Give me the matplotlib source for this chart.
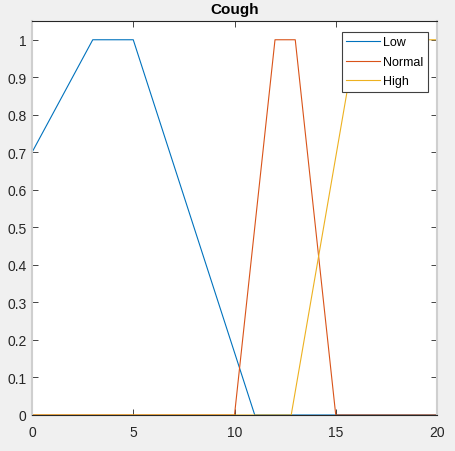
import numpy as np
import matplotlib
matplotlib.use("Agg")
import matplotlib.pyplot as plt

x_range = [0, 20]
mf_names = ["Low", "Normal", "High"]
mf_params = [[-7, 3, 5, 11], [10, 12, 13, 15], [12.8, 16, 20, 24]]
colors = ["#0072BD", "#D95319", "#EDB120"]
x_ticks = [0, 5, 10, 15, 20]
y_ticks = [0, 0.1, 0.2, 0.3, 0.4, 0.5, 0.6, 0.7, 0.8, 0.9, 1]
y_tick_labels = ["0", "0.1", "0.2", "0.3", "0.4", "0.5", "0.6", "0.7", "0.8", "0.9", "1"]


def trapmf(x, p):
    a, b, c, d = p
    up = (x - a) / (b - a)
    down = (d - x) / (d - c)
    return np.clip(np.minimum(np.minimum(up, 1.0), down), 0, 1)


plt.rcParams['font.family'] = ['Liberation Sans', 'DejaVu Sans']

fig = plt.figure(figsize=(4.56, 4.52), dpi=100, facecolor="#f0f0f0")
ax = fig.add_axes([32 / 456, 36 / 452, 405 / 456, 394 / 452])
ax.set_facecolor("white")

xs = np.linspace(x_range[0], x_range[1], 2001)
for name, p, c in zip(mf_names, mf_params, colors):
    ax.plot(xs, trapmf(xs, p), color=c, lw=0.8, label=name)

ax.set_xlim(x_range)
ax.set_ylim(0, 1.05)
ax.set_xticks(x_ticks)
ax.set_yticks(y_ticks)
ax.set_yticklabels(y_tick_labels)
ax.tick_params(direction="in", top=True, right=True, labelsize=10,
               colors="#262626", length=4, width=0.6)
ax.tick_params(axis="x", pad=7)
ax.tick_params(axis="y", pad=4)
for side, s in ax.spines.items():
    if side in ("left", "right"):
        s.set_color("#cfcfcf")
        s.set_linewidth(1.5)
    else:
        s.set_color("#262626")
        s.set_linewidth(0.8)
ax.set_title("Cough", fontsize=11, fontweight="bold", color="black", pad=6)

leg = ax.legend(loc="upper right", bbox_to_anchor=(0.978, 0.972), borderaxespad=0,
                fontsize=9, fancybox=False, framealpha=1,
                edgecolor="#404040", borderpad=0.35, labelspacing=0.6,
                handlelength=2.7, handletextpad=0.3)
leg.get_frame().set_linewidth(0.8)

fig.savefig("out.png", dpi=100, facecolor=fig.get_facecolor())
